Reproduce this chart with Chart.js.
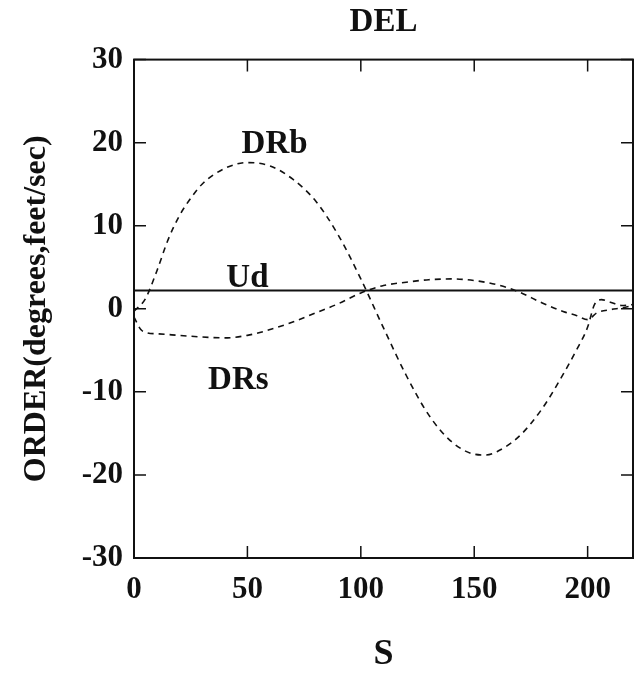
<!DOCTYPE html>
<html>
<head>
<meta charset="utf-8">
<script src="https://cdn.jsdelivr.net/npm/chart.js@4.4.1/dist/chart.umd.min.js"></script>
<style>
  html, body { margin: 0; padding: 0; background: #fff; }
</style>
</head>
<body>
<canvas id="delChart" width="635" height="673"></canvas>
<script>
// values (S on x, ORDER on y)
const sDRb = [0, 5, 10, 15, 20, 25, 30, 40, 50, 60, 70, 80, 90, 100, 110, 120, 130, 140, 150, 155, 160, 170, 180, 190, 195, 200, 203, 206, 210, 215, 220];
const drb  = [-0.3, 1.2, 4.5, 8.3, 11.2, 13.3, 15.0, 16.9, 17.6, 17.2, 15.6, 13.0, 8.9, 3.6, -2.3, -8.0, -12.8, -16.0, -17.5, -17.6, -17.2, -15.3, -12.0, -7.5, -5.0, -2.2, 0.5, 1.1, 0.8, 0.4, 0.5];

const sDRs = [0, 3, 6, 10, 20, 30, 40, 50, 60, 70, 80, 90, 100, 110, 120, 130, 140, 150, 160, 170, 180, 190, 195, 200, 204, 210, 215, 220];
const drs  = [-1.0, -2.5, -2.9, -3.0, -3.2, -3.4, -3.5, -3.2, -2.5, -1.6, -0.5, 0.6, 1.9, 2.8, 3.2, 3.5, 3.6, 3.4, 2.9, 2.0, 0.7, -0.4, -0.8, -1.3, -0.5, -0.1, 0.1, 0.4];

const sUd = [0, 220];
const ud  = [2.2, 2.2];

// curve names written inside the plot: [text, S, ORDER]
const curveLabels = [
  ["DRb", 62, 19.8],
  ["Ud", 50, 3.7],
  ["DRs", 46, -8.6]
];

const serif = '"Liberation Serif", "Times New Roman", serif';

function toPoints(xs, ys) {
  return xs.map((s, i) => ({ x: s, y: ys[i] }));
}

// box round the plot, inward ticks on all four sides, curve names
const frame = {
  id: "frame",
  afterDatasetsDraw(chart) {
    const { ctx, chartArea: a, scales: { x, y } } = chart;
    ctx.save();
    ctx.strokeStyle = "#111";
    ctx.lineWidth = 2;
    ctx.strokeRect(a.left, a.top, a.right - a.left, a.bottom - a.top);

    ctx.lineWidth = 1.5;
    ctx.beginPath();
    x.ticks.forEach(t => {
      const px = x.getPixelForValue(t.value);
      ctx.moveTo(px, a.bottom); ctx.lineTo(px, a.bottom - 12);
      ctx.moveTo(px, a.top); ctx.lineTo(px, a.top + 12);
    });
    y.ticks.forEach(t => {
      const py = y.getPixelForValue(t.value);
      ctx.moveTo(a.left, py); ctx.lineTo(a.left + 12, py);
      ctx.moveTo(a.right, py); ctx.lineTo(a.right - 12, py);
    });
    ctx.stroke();

    ctx.fillStyle = "#111";
    ctx.font = "bold 33px " + serif;
    ctx.textAlign = "center";
    ctx.textBaseline = "middle";
    curveLabels.forEach(([txt, s, v]) => {
      ctx.fillText(txt, x.getPixelForValue(s), y.getPixelForValue(v));
    });
    ctx.restore();
  }
};

const dashed = {
  borderColor: "#111",
  borderWidth: 1.6,
  borderDash: [6, 5],
  pointRadius: 0,
  cubicInterpolationMode: "monotone",
  fill: false
};

new Chart(document.getElementById("delChart"), {
  type: "line",
  data: {
    datasets: [
      { label: "DRb", data: toPoints(sDRb, drb), ...dashed },
      { label: "DRs", data: toPoints(sDRs, drs), ...dashed },
      { label: "Ud", data: toPoints(sUd, ud), borderColor: "#111", borderWidth: 2, pointRadius: 0, fill: false }
    ]
  },
  options: {
    responsive: false,
    animation: false,
    devicePixelRatio: 1,
    layout: { padding: { left: 0, right: 2, top: 0, bottom: 0 } },
    plugins: {
      legend: { display: false },
      tooltip: { enabled: false },
      title: {
        display: true,
        text: "DEL",
        fullSize: false,
        color: "#111",
        font: { family: serif, size: 33, weight: "bold" },
        padding: { top: 3, bottom: 17 }
      }
    },
    scales: {
      x: {
        type: "linear",
        min: 0,
        max: 220,
        grid: { display: false, drawTicks: false },
        border: { display: false },
        ticks: {
          stepSize: 50,
          includeBounds: false,
          padding: 13,
          color: "#111",
          maxRotation: 0,
          font: { family: serif, size: 31, weight: "bold" }
        },
        title: {
          display: true,
          text: "S",
          color: "#111",
          font: { family: serif, size: 36, weight: "bold", lineHeight: 1 },
          padding: { top: 0, bottom: 0 }
        },
        afterFit(scale) { scale.height = 115; }
      },
      y: {
        min: -30,
        max: 30,
        grid: { display: false, drawTicks: false },
        border: { display: false },
        ticks: {
          stepSize: 10,
          padding: 11,
          color: "#111",
          font: { family: serif, size: 31, weight: "bold" }
        },
        title: {
          display: true,
          text: "ORDER(degrees,feet/sec)",
          color: "#111",
          font: { family: serif, size: 32, weight: "bold" },
          padding: { top: 18, bottom: 0 }
        },
        afterFit(scale) { scale.width = 134; }
      }
    }
  },
  plugins: [frame]
});
</script>
</body>
</html>
